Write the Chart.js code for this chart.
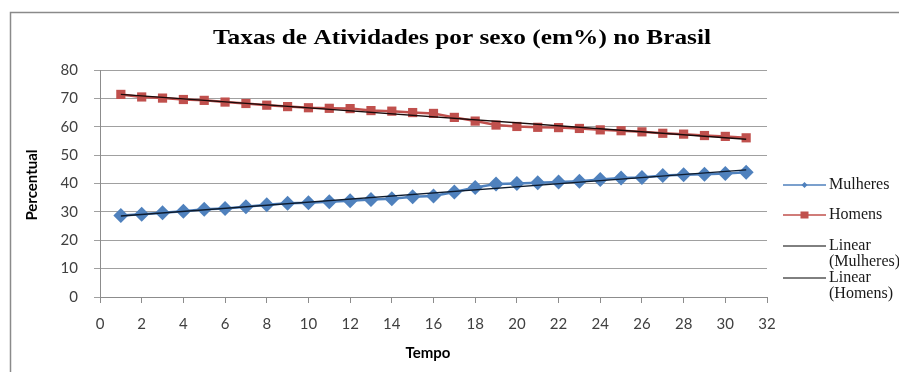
<!DOCTYPE html>
<html>
<head>
<meta charset="utf-8">
<script src="https://cdn.jsdelivr.net/npm/chart.js@4/dist/chart.umd.min.js"></script>
<style>
  html, body { margin: 0; padding: 0; background: #ffffff; }
  #wrap { width: 899px; height: 372px; position: relative; }
</style>
</head>
<body>
<div id="wrap"><canvas id="c" width="899" height="372"></canvas></div>
<script>
// Periods (Tempo) and activity rates (%) by sex
const tempo = [1,2,3,4,5,6,7,8,9,10,11,12,13,14,15,16,17,18,19,20,21,22,23,24,25,26,27,28,29,30,31];
const mulheres = [28.7,29.2,29.7,30.2,30.9,31.2,31.8,32.5,33.0,33.2,33.6,33.9,34.4,34.6,35.3,35.6,37.0,38.6,39.8,40.0,40.3,40.5,40.8,41.4,41.9,42.1,42.8,43.1,43.3,43.5,44.0];
const homens = [71.4,70.5,70.1,69.6,69.3,68.7,68.2,67.6,67.1,66.7,66.5,66.4,65.7,65.5,65.0,64.7,63.3,62.0,60.6,60.1,59.8,59.7,59.4,58.9,58.6,58.2,57.7,57.4,56.9,56.6,56.1];
const xTicks = [0,2,4,6,8,10,12,14,16,18,20,22,24,26,28,30,32];
const yTicks = [0,10,20,30,40,50,60,70,80];

const titleText = 'Taxas de Atividades por sexo (em%) no Brasil';
const xTitle = 'Tempo';
const yTitle = 'Percentual';
const legendItems = [
  { lines: ['Mulheres'], color: '#4F81BD', marker: 'diamond' },
  { lines: ['Homens'], color: '#C0504D', marker: 'square' },
  { lines: ['Linear', '(Mulheres)'], color: '#000000', marker: null },
  { lines: ['Linear', '(Homens)'], color: '#000000', marker: null }
];

// Least-squares linear trend of a series, evaluated at the first and last period
function linearTrend(xs, ys) {
  const n = xs.length;
  let sx = 0, sy = 0, sxx = 0, sxy = 0;
  for (let i = 0; i < n; i++) { sx += xs[i]; sy += ys[i]; sxx += xs[i]*xs[i]; sxy += xs[i]*ys[i]; }
  const b = (n*sxy - sx*sy) / (n*sxx - sx*sx);
  const a = (sy - b*sx) / n;
  const x0 = xs[0], x1 = xs[n-1];
  return [{ x: x0, y: a + b*x0 }, { x: x1, y: a + b*x1 }];
}

const pts = (xs, ys) => xs.map((x, i) => ({ x: x, y: ys[i] }));

const tickFont = { family: 'Lato, "Open Sans", sans-serif', size: 15 };
const tickColor = '#404040';
const axisGray = '#8c8c8c';

const decor = {
  id: 'decor',
  beforeDraw(chart) {
    const ctx = chart.ctx;
    ctx.save();
    ctx.fillStyle = '#ffffff';
    ctx.fillRect(0, 0, chart.width, chart.height);
    ctx.restore();
  },
  afterDraw(chart) {
    const ctx = chart.ctx;
    ctx.save();
    // outer frame
    ctx.strokeStyle = '#8a8a8a';
    ctx.lineWidth = 1.5;
    ctx.beginPath();
    ctx.moveTo(10.5, 372);
    ctx.lineTo(10.5, 12.5);
    ctx.lineTo(899, 12.5);
    ctx.stroke();

    // chart title
    ctx.fillStyle = '#000000';
    ctx.font = 'bold 22px "Liberation Serif", "DejaVu Serif", serif';
    ctx.textAlign = 'center';
    ctx.textBaseline = 'middle';
    const tw = ctx.measureText(titleText).width;
    const target = 498;
    ctx.save();
    ctx.translate(462, 38);
    ctx.scale(target / tw, 1);
    ctx.fillText(titleText, 0, 0);
    ctx.restore();

    // axis titles
    ctx.font = 'bold 15px Lato, "Open Sans", sans-serif';
    ctx.fillStyle = '#000000';
    ctx.fillText(xTitle, 428, 353);
    ctx.save();
    ctx.translate(32, 185);
    ctx.rotate(-Math.PI / 2);
    ctx.fillText(yTitle, 0, 0);
    ctx.restore();

    // legend
    const rows = [185, 215, 246, 278];
    ctx.font = '16px "Liberation Serif", "DejaVu Serif", serif';
    ctx.textAlign = 'left';
    legendItems.forEach((it, i) => {
      const y = rows[i];
      ctx.strokeStyle = it.color;
      ctx.lineWidth = it.marker ? 1.5 : 1;
      ctx.beginPath();
      ctx.moveTo(783, y);
      ctx.lineTo(826, y);
      ctx.stroke();
      ctx.fillStyle = it.color;
      if (it.marker === 'diamond') {
        ctx.beginPath();
        ctx.moveTo(804.5, y - 3); ctx.lineTo(807.5, y); ctx.lineTo(804.5, y + 3); ctx.lineTo(801.5, y);
        ctx.closePath(); ctx.fill();
      } else if (it.marker === 'square') {
        ctx.fillRect(800.5, y - 3.5, 8, 7);
      }
      ctx.fillStyle = '#1a1a1a';
      it.lines.forEach((t, k) => ctx.fillText(t, 829, y + k * 16));
    });
    ctx.restore();
  }
};

new Chart(document.getElementById('c'), {
  type: 'line',
  data: {
    datasets: [
      {
        label: 'Mulheres',
        data: pts(tempo, mulheres),
        borderColor: '#4F81BD', backgroundColor: '#4F81BD',
        borderWidth: 2.5, pointStyle: 'rectRot', pointRadius: 7.5,
        pointBorderWidth: 0, tension: 0, order: 2
      },
      {
        label: 'Homens',
        data: pts(tempo, homens),
        borderColor: '#C0504D', backgroundColor: '#C0504D',
        borderWidth: 2.5, pointStyle: 'rect', pointRadius: 6.5,
        pointBorderWidth: 0, tension: 0, order: 2
      },
      {
        label: 'Linear (Mulheres)',
        data: linearTrend(tempo, mulheres),
        borderColor: '#0d1b2e', borderWidth: 1.4, pointRadius: 0, order: 1
      },
      {
        label: 'Linear (Homens)',
        data: linearTrend(tempo, homens),
        borderColor: '#1a0a0a', borderWidth: 1.4, pointRadius: 0, order: 1
      }
    ]
  },
  options: {
    responsive: false,
    animation: false,
    devicePixelRatio: 1,
    layout: { padding: { top: 70, right: 132, bottom: 0, left: 0 } },
    plugins: { legend: { display: false }, title: { display: false }, tooltip: { enabled: false } },
    scales: {
      x: {
        type: 'linear', min: 0, max: 32,
        afterFit: s => { s.height = 75; },
        afterBuildTicks: s => { s.ticks = xTicks.map(v => ({ value: v })); },
        ticks: { font: tickFont, color: tickColor, padding: 12, maxRotation: 0, autoSkip: false },
        grid: { drawOnChartArea: false, drawTicks: true, tickLength: 6, color: axisGray },
        border: { color: axisGray, width: 1 }
      },
      y: {
        min: 0, max: 80,
        afterFit: s => { s.width = 100; },
        afterBuildTicks: s => { s.ticks = yTicks.map(v => ({ value: v })); },
        ticks: { font: tickFont, color: tickColor, padding: 16 },
        grid: { drawTicks: true, tickLength: 6, color: '#a0a0a0' },
        border: { color: axisGray, width: 1 }
      }
    }
  },
  plugins: [decor]
});
</script>
</body>
</html>
